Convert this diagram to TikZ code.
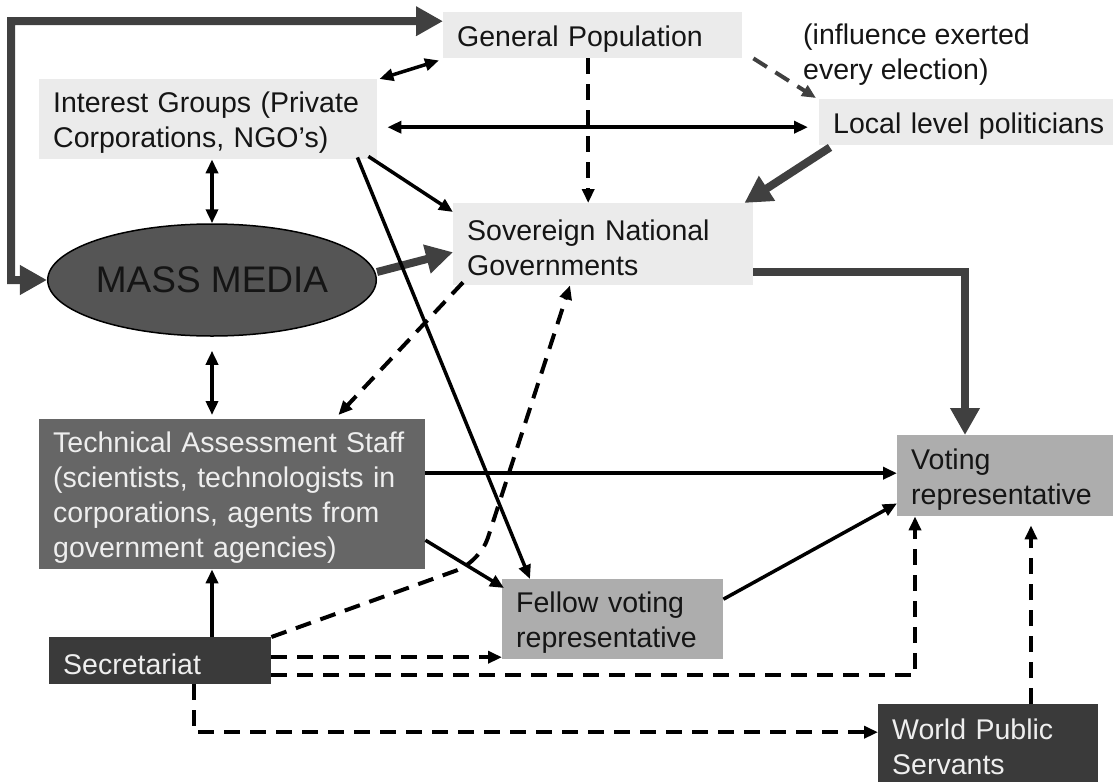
\documentclass[tikz,border=0pt]{standalone}
\usepackage{fontspec}
\setmainfont{Liberation Sans}
\usetikzlibrary{arrows.meta,shapes.geometric}
\definecolor{lightbg}{HTML}{EBEBEB}
\definecolor{midbg}{HTML}{ADADAD}
\definecolor{tasbg}{HTML}{666666}
\definecolor{darkbg}{HTML}{3A3A3A}
\definecolor{mmfill}{HTML}{555555}
\definecolor{thickcol}{HTML}{404040}
\definecolor{txtdark}{HTML}{151515}
\definecolor{txtlight}{HTML}{EEEEEE}
\tikzset{
  smalltip/.tip={Triangle[width=12pt,length=14pt]},
  bigtip/.tip={Triangle[width=28pt,length=27pt]},
}
\begin{document}
\begin{tikzpicture}[x=1pt,y=-1pt,
  box/.style={anchor=north west, inner xsep=14pt, inner ysep=0pt, align=left,
    font=\fontsize{28.5}{35}\selectfont, execute at begin node={\rule{0pt}{28pt}}},
  lightbox/.style={box, fill=lightbg, text=txtdark},
  midbox/.style={box, fill=midbg, text=txtdark},
  tasbox/.style={box, fill=tasbg, text=txtlight},
  darkbox/.style={box, fill=darkbg, text=txtlight},
  arr/.style={line width=3.5pt, -smalltip},
  arrboth/.style={line width=3.5pt, smalltip-smalltip},
  dasharr/.style={line width=4pt, dash pattern=on 16pt off 10pt, -smalltip},
  thickarr/.style={line width=8pt, color=thickcol, -bigtip},
]
\useasboundingbox (0,0) rectangle (1113,782);
\fill[white] (0,0) rectangle (1113,782);

% nodes
\node[lightbox, text width=271pt, minimum height=46pt] (gp) at (443,12) {General Population};
\node[lightbox, text width=310pt, minimum height=80pt] (ig) at (39,79) {Interest Groups (Private\\Corporations, NGO’s)};
\node[lightbox, text width=266pt, minimum height=46pt] (lp) at (819,99) {\mbox{Local level politicians}};
\node[anchor=west, align=left, inner sep=0pt, font=\fontsize{28.5}{35}\selectfont, text=txtdark] (note) at (803,55) {(influence exerted\\every election)};
\node[ellipse, fill=mmfill, draw=black, line width=1.5pt, minimum width=290pt, minimum height=112pt, inner sep=0pt,
      font=\fontsize{37}{40}\selectfont, text=txtdark] (mm) at (212,280) {\raisebox{-3pt}{MASS MEDIA}};
\node[lightbox, text width=272pt, minimum height=82pt] (sg) at (453,203) {Sovereign National\\Governments};
\node[midbox, text width=188pt, minimum height=81pt] (vr) at (897,435) {Voting\\representative};
\node[midbox, text width=193pt, minimum height=80pt] (fv) at (502,579) {Fellow voting\\representative};
\node[tasbox, text width=358pt, minimum height=150pt] (tas) at (39,419) {\mbox{Technical Assessment Staff}\\(scientists, technologists in\\corporations, agents from\\government agencies)};
\node[darkbox, text width=194pt, minimum height=47pt] (sec) at (49,637) {Secretariat};
\node[darkbox, text width=192pt, minimum height=78pt] (wps) at (878,704) {World Public\\Servants};

\coordinate (lc) at (11,21);
\coordinate (bend) at (480,562);

% thick connectors
\draw[thickarr, bigtip-bigtip] ([yshift=14pt]gp.west) -- (lc) |- (mm.west);
\draw[thickarr] ([yshift=8pt]mm.east) -- ([yshift=-8pt]sg.west);
\draw[thickarr] ([xshift=11pt,yshift=-2pt]lp.south west) -- ([xshift=-9pt]sg.north east);
\draw[thickarr] ([yshift=-28pt]sg.east) -| ([xshift=68pt]vr.north west);

% thin solid connectors
\draw[arrboth] ([xshift=2pt]ig.north east) -- ([xshift=-4pt,yshift=-2pt]gp.south west);
\draw[arrboth] ([xshift=10pt,yshift=-8pt]ig.east) -- ([xshift=-11pt,yshift=-5pt]lp.west);
\draw[arrboth] (mm.north |- ig.south) -- (mm.north);
\draw[arrboth, shorten >=4pt] ([yshift=-14pt]mm.south) -- (mm.south |- tas.north);
\draw[arr] ([xshift=-9pt,yshift=3pt]ig.south east) -- ([yshift=-9pt]sg.north west);
\draw[arr] ([xshift=-20pt,yshift=2pt]ig.south east) -- ([xshift=28pt]fv.north west);
\draw[arr] (sec.north -| mm.south) -- (tas.south -| mm.south);
\draw[arr] ([yshift=21pt]tas.east) -- ([yshift=21pt]tas.east -| vr.west);
\draw[arr] ([yshift=-46pt]tas.east) -- ([xshift=2pt,yshift=-9pt]fv.north west);
\draw[arr] ([yshift=20pt]fv.east) -- ([yshift=13pt]vr.south west);

% dashed connectors
\draw[dasharr] ([xshift=-4.5pt]gp.south) -- ([xshift=-4.5pt]gp.south |- sg.north);
\draw[dasharr, color=thickcol] ([xshift=11pt]gp.south east) -- ([xshift=-3pt,yshift=1pt]lp.north west);
\draw[dasharr] ([xshift=10pt,yshift=3pt]sg.south west) -- ([xshift=-87pt,yshift=4pt]tas.north east);
\draw[dasharr, rounded corners=25pt] (sec.north east) -- (bend) -- ([xshift=117pt]sg.south west);
\draw[dasharr] ([yshift=3.5pt]sec.east) -- ([yshift=3.5pt]sec.east -| fv.west);
\draw[dasharr] ([yshift=-14.5pt]sec.east) -| ([xshift=18pt]vr.south west);
\draw[dasharr] ([xshift=145pt]sec.south west) |- ([yshift=11pt]wps.west);
\draw[dasharr, shorten >=9pt] ([xshift=153pt]wps.north west) -- ([xshift=153pt]wps.north west |- vr.south);
\end{tikzpicture}
\end{document}
